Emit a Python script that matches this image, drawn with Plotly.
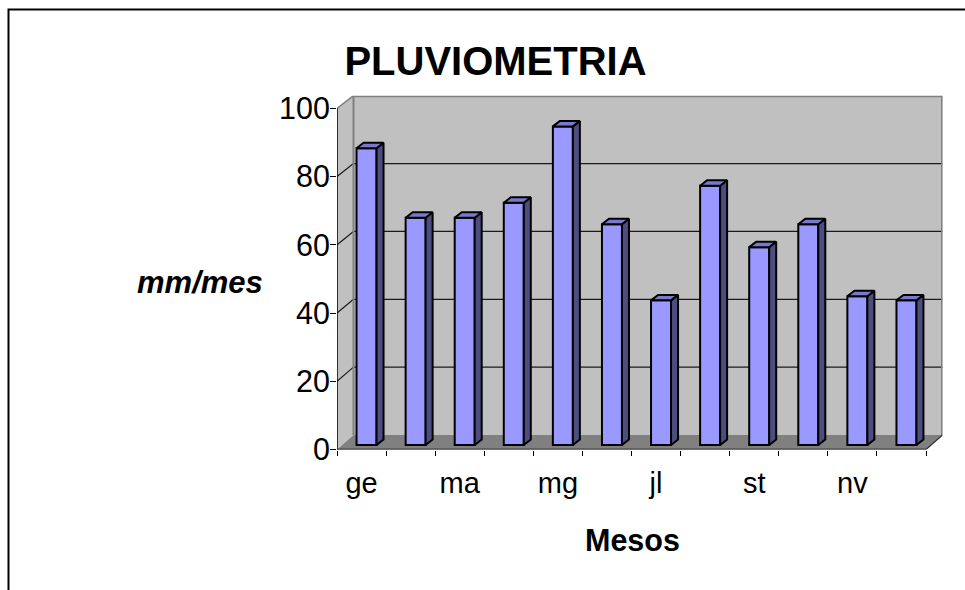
import plotly.graph_objects as go

months = ["ge", "fb", "ma", "ab", "mg", "jn", "jl", "ag", "st", "oc", "nv", "ds"]
rainfall = [87.0, 66.6, 66.6, 71.0, 93.4, 64.7, 42.4, 76.0, 58.0, 64.7, 43.6, 42.4]
y_ticks = [0, 20, 40, 60, 80, 100]
title_text = "PLUVIOMETRIA"
x_title = "Mesos"
y_title = "mm/mes"

W, H = 965, 590
X0, X1 = 337.0, 926.0       # front plane, px
Y0, Y100 = 449.5, 107.7
DX, DY_B, DY_T = 16.5, 14.5, 12.0   # wall depth, px
PXX = (X1 - X0) / 12
PXY = (Y0 - Y100) / 100
BACK_PXY = 3.40

FRONT = "#9999FF"; SIDE = "#4D4D80"; TOP = "#7A7ACC"
WALL = "#C0C0C0"; FLOOR = "#808080"; FONT = "Liberation Sans"

ux = lambda px: px / PXX
uy = lambda px: px / PXY
back_y = lambda v: uy(DY_B + v * BACK_PXY)
x_max = 12 + ux(DX)
y_max = back_y(100)

def poly(pts, fill, line=None, width=0):
    path = "M " + " L ".join(f"{x},{y}" for x, y in pts) + " Z"
    return dict(type="path", path=path, xref="x", yref="y", layer="below",
                fillcolor=fill, line=dict(color=line or fill, width=width))

def seg(x0, y0, x1, y1, color, width):
    return dict(type="line", xref="x", yref="y", layer="below", x0=x0, y0=y0, x1=x1, y1=y1,
                line=dict(color=color, width=width))

bx = ux(DX)
shapes = [
    poly([(bx, back_y(0)), (x_max, back_y(0)), (x_max, back_y(100)), (bx, back_y(100))], WALL),
    poly([(0, 0), (bx, back_y(0)), (bx, back_y(100)), (0, 100)], WALL),
    poly([(0, 0), (12, 0), (x_max, back_y(0)), (bx, back_y(0))], FLOOR),
]
for v in y_ticks[1:-1]:
    shapes.append(seg(bx, back_y(v), x_max, back_y(v), "#1a1a1a", 1.2))
for v in y_ticks[1:-1]:
    shapes.append(seg(0, v, bx, back_y(v), "#1a1a1a", 1.2))
shapes += [
    seg(bx, back_y(0), bx, back_y(100), FLOOR, 2),
    seg(bx, back_y(100), x_max, back_y(100), FLOOR, 3),
    seg(x_max, back_y(0), x_max, back_y(100), FLOOR, 3),
    seg(0, 100, bx, back_y(100), FLOOR, 1.5),
    seg(12, 0, x_max, back_y(0), "#333333", 1.2),
]
# chart frame, running off the right and bottom of the page
shapes.append(dict(type="path", xref="paper", yref="paper", layer="above",
                   path=f"M {8.5/W},0 L {8.5/W},{1-9.5/H} L 1,{1-9.5/H}",
                   line=dict(color="black", width=2)))

BASE = uy(4.5)
BAR_W = ux(20)
SHIFT = ux(5)
centers = [i + 0.5 + SHIFT for i in range(len(months))]
dx, dy = ux(7), uy(5.5)

side_x, side_y, top_x, top_y = [], [], [], []
for c, v in zip(centers, rainfall):
    l, r, t = c - BAR_W / 2, c + BAR_W / 2, BASE + v
    side_x += [r, r + dx, r + dx, r, r, None]
    side_y += [BASE, BASE + dy, t + dy, t, BASE, None]
    top_x += [l, r, r + dx, l + dx, l, None]
    top_y += [t, t, t + dy, t + dy, t, None]

fig = go.Figure()
fig.add_bar(x=centers, y=rainfall, base=BASE, width=BAR_W, marker=dict(color=FRONT, line=dict(color="black", width=2)),
            hoverinfo="skip")
fig.add_scatter(x=side_x, y=side_y, mode="lines", fill="toself", fillcolor=SIDE,
                line=dict(color="black", width=2), hoverinfo="skip")
fig.add_scatter(x=top_x, y=top_y, mode="lines", fill="toself", fillcolor=TOP,
                line=dict(color="black", width=2), hoverinfo="skip")
# front axis lines
fig.add_scatter(x=[0, 12], y=[0, 0], mode="lines", line=dict(color="black", width=1.5), cliponaxis=False, hoverinfo="skip")
fig.add_scatter(x=[0, 0], y=[0, 100], mode="lines", line=dict(color="black", width=1.5), cliponaxis=False, hoverinfo="skip")

fig.update_layout(
    width=W, height=H, showlegend=False, paper_bgcolor="white", plot_bgcolor="white",
    margin=dict(l=0, r=0, t=0, b=0, pad=0, autoexpand=False), shapes=shapes, font=dict(family=FONT, color="black"),
    title=dict(text=f"<b>{title_text}</b>", x=495.5 / W, xanchor="center", xref="container",
               y=1 - 61 / H, yanchor="middle", yref="container", font=dict(size=40, family=FONT)),
    xaxis=dict(domain=[X0 / W, (X1 + DX) / W], range=[0, x_max], showgrid=False, zeroline=False,
               tickmode="array", tickvals=[i + 0.5 for i in range(0, 12, 2)], ticktext=months[::2],
               ticks="", tickfont=dict(size=29), ticklabelstandoff=13,
               minor=dict(tickmode="array", tickvals=list(range(13)), ticks="outside", ticklen=5,
                          tickcolor="black", tickwidth=1.3, showgrid=False)),
    yaxis=dict(domain=[1 - Y0 / H, 1 - (Y100 - DY_T) / H], range=[0, y_max], showgrid=False, zeroline=False,
               tickmode="array", tickvals=y_ticks, ticks="outside", ticklen=6, tickcolor="black", tickwidth=1.3,
               tickfont=dict(size=30.5), ticklabelstandoff=-6),
    annotations=[
        dict(text=f"<b><i>{y_title}</i></b>", xref="paper", yref="paper", x=200 / W, y=1 - 282 / H,
             showarrow=False, xanchor="center", yanchor="middle", font=dict(size=31)),
        dict(text=f"<b>{x_title}</b>", xref="paper", yref="paper", x=632.5 / W, y=1 - 540 / H,
             showarrow=False, xanchor="center", yanchor="middle", font=dict(size=30.5)),
    ],
)
fig.write_html("out.html", post_script="document.body.style.margin='0';", config=dict(displayModeBar=False))
